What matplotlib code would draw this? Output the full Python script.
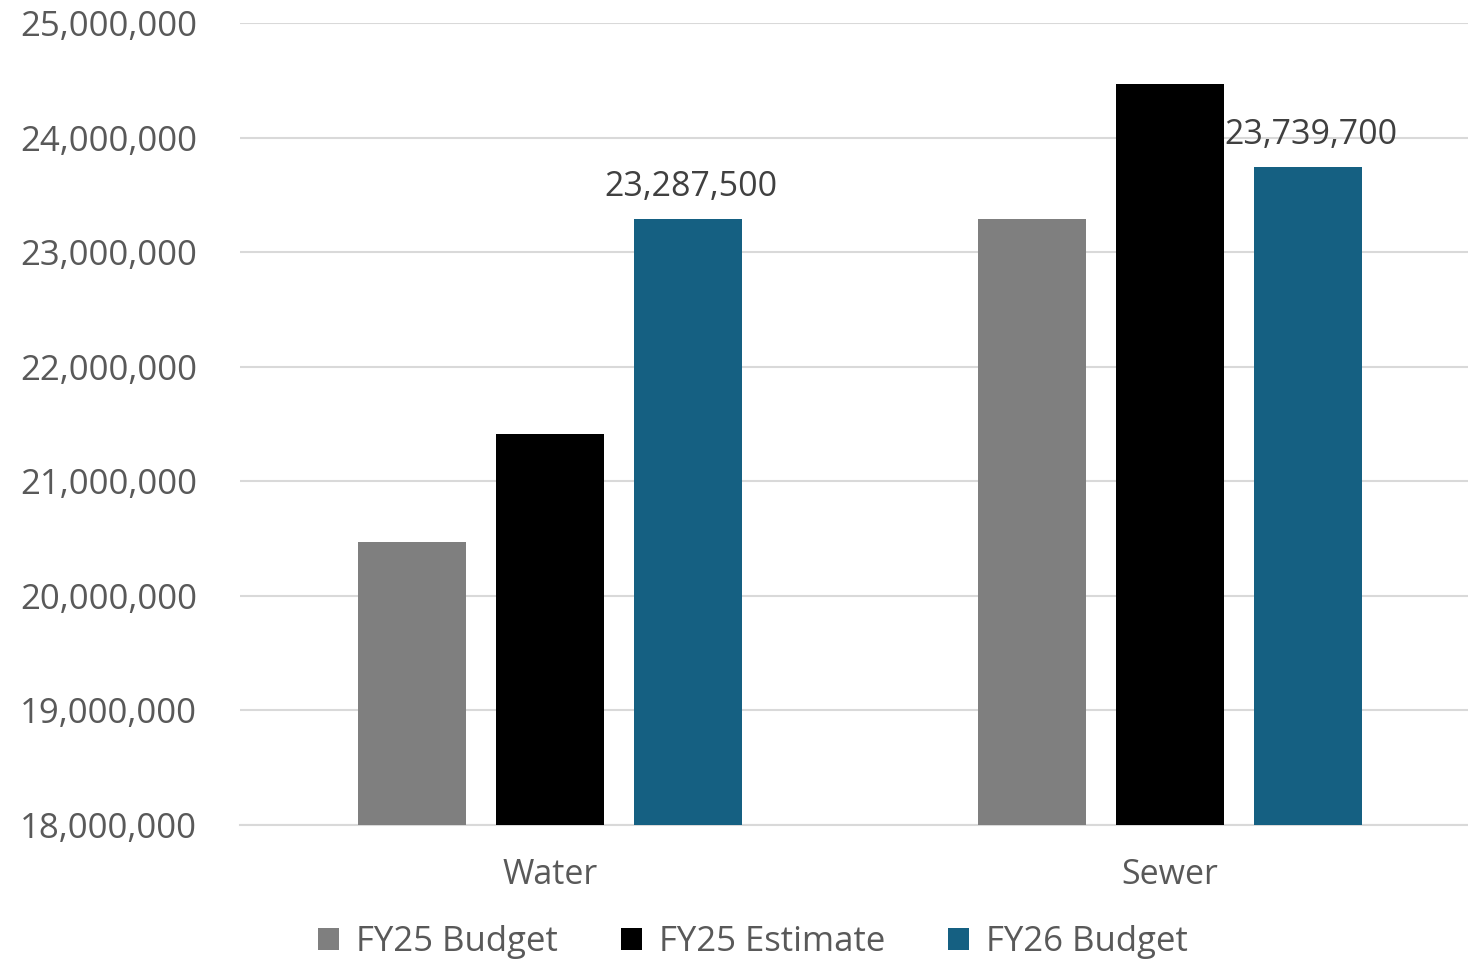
import matplotlib
matplotlib.use("Agg")
import matplotlib.pyplot as plt
import numpy as np
from matplotlib.ticker import FuncFormatter

categories = ["Water", "Sewer"]
series_names = ["FY25 Budget", "FY25 Estimate", "FY26 Budget"]
fy25_budget = [20474000, 23290000]
fy25_estimate = [21410000, 24470000]
fy26_budget = [23287500, 23739700]
colors = ["#7f7f7f", "#000000", "#156082"]
y_ticks = [18000000, 19000000, 20000000, 21000000, 22000000, 23000000, 24000000, 25000000]

plt.rcParams['font.family'] = ['Open Sans', 'DejaVu Sans']

fig = plt.figure(figsize=(14.68, 9.6), dpi=100)
ax = fig.add_axes([240/1468, 135/960, 1228/1468, 802/960])

x = np.arange(len(categories))
width = 108/620
step = 138/620
all_series = [fy25_budget, fy25_estimate, fy26_budget]
for i, (vals, name, c) in enumerate(zip(all_series, series_names, colors)):
    bars = ax.bar(x + (i - 1) * step, vals, width, color=c, label=name, zorder=3)
    if i == 2:
        for b, v in zip(bars, vals):
            ax.annotate(f"{v:,.0f}", (b.get_x() + b.get_width()/2, v),
                        xytext=(2, 11), textcoords="offset points",
                        ha="center", va="bottom", fontsize=24.5, color="#404040", zorder=4)

ax.set_ylim(18000000, 25000000)
ax.set_xlim(-0.5, -0.5 + 1228/620)
ax.set_yticks(y_ticks)
ax.yaxis.set_major_formatter(FuncFormatter(lambda v, p: f"{v:,.0f}"))
ax.set_xticks(x)
ax.set_xticklabels(categories)
ax.tick_params(axis='y', length=0, pad=31, labelsize=25, labelcolor="#595959")
ax.tick_params(axis='x', length=0, pad=24, labelsize=24.5, labelcolor="#595959")
ax.grid(axis='y', color="#d9d9d9", linewidth=1.5, zorder=0)
for s in ["top", "right", "left"]:
    ax.spines[s].set_visible(False)
ax.spines["bottom"].set_color("#d9d9d9")
ax.spines["bottom"].set_linewidth(1.5)

leg = fig.legend(loc="center", bbox_to_anchor=(753/1468, 1 - 942/960), ncol=3,
                 frameon=False, fontsize=25, handlelength=0.6, handleheight=0.6,
                 handletextpad=0.5, columnspacing=1.8)
for t in leg.get_texts():
    t.set_color("#595959")

fig.savefig("out.png", dpi=100)
